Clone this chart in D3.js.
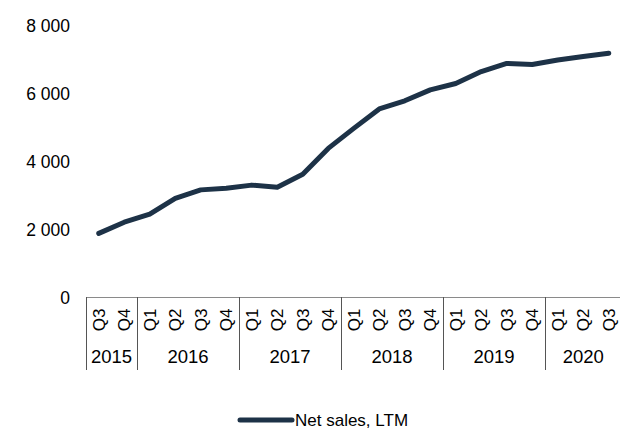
<!DOCTYPE html>
<html>
<head>
<meta charset="utf-8">
<script src="https://cdn.jsdelivr.net/npm/d3@7"></script>
<style>
  body { margin: 0; background: #fff; }
  text { font-family: "Liberation Sans", Arial, sans-serif; fill: #000; }
</style>
</head>
<body>
<div id="chart"></div>
<script>
// ----------------------------
// DATA
// ----------------------------
const years = ["2015", "2016", "2017", "2018", "2019", "2020"];
const quarters = [
  ["Q3", "Q4"],
  ["Q1", "Q2", "Q3", "Q4"],
  ["Q1", "Q2", "Q3", "Q4"],
  ["Q1", "Q2", "Q3", "Q4"],
  ["Q1", "Q2", "Q3", "Q4"],
  ["Q1", "Q2", "Q3"]
];
const netSales = [
  1900, 2230,
  2470, 2930, 3180, 3230,
  3320, 3260, 3640, 4400,
  4990, 5560, 5800, 6120,
  6310, 6660, 6900, 6870,
  7000, 7100, 7200
];
const yTicks = [0, 2000, 4000, 6000, 8000];
const seriesName = "Net sales, LTM";

// ----------------------------
// SETUP
// ----------------------------
const width = 620, height = 431;
const y0 = 298, yTop = 26;
const xLeft = 86, xRight = 621.5;
const color = "#1d3247";

const cats = [];
years.forEach((yr, i) => quarters[i].forEach(q => cats.push({ key: yr + " " + q, year: yr, q })));

const svg = d3.select("#chart").append("svg")
  .attr("width", width).attr("height", height);

const x = d3.scaleBand()
  .domain(cats.map(d => d.key))
  .range([xLeft, xRight])
  .padding(0);

const y = d3.scaleLinear()
  .domain([0, 8000])
  .range([y0, yTop]);

// ----------------------------
// Y AXIS LABELS
// ----------------------------
svg.append("g")
  .selectAll("text")
  .data(yTicks)
  .join("text")
  .attr("x", 70)
  .attr("y", d => y(d))
  .attr("dy", "0.35em")
  .attr("text-anchor", "end")
  .style("font-size", "17.5px")
  .text(d => d3.format(",")(d).replace(/,/g, " "));

// ----------------------------
// X AXIS (two-level categories)
// ----------------------------
svg.append("line")
  .attr("x1", xLeft).attr("x2", width)
  .attr("y1", y0 - 0.5).attr("y2", y0 - 0.5)
  .attr("stroke", "#8a8a8a").attr("stroke-width", 1.2);

// year boundaries
let idx = 0;
const bounds = [0];
quarters.forEach(qs => { idx += qs.length; bounds.push(idx); });

svg.append("g")
  .selectAll("line")
  .data(bounds.slice(0, -1))
  .join("line")
  .attr("x1", i => Math.round(xLeft + i * x.bandwidth()) + 0.5)
  .attr("x2", i => Math.round(xLeft + i * x.bandwidth()) + 0.5)
  .attr("y1", y0 - 1)
  .attr("y2", 370)
  .attr("stroke", "#555").attr("stroke-width", 1);

svg.append("g")
  .selectAll("text")
  .data(cats)
  .join("text")
  .attr("transform", d => `translate(${x(d.key) + x.bandwidth() / 2 + 6},320) rotate(-90)`)
  .attr("text-anchor", "middle")
  .style("font-size", "17px")
  .text(d => d.q);

svg.append("g")
  .selectAll("text")
  .data(years)
  .join("text")
  .attr("x", (d, i) => xLeft + (bounds[i] + bounds[i + 1]) / 2 * x.bandwidth())
  .attr("y", 363)
  .attr("text-anchor", "middle")
  .style("font-size", "18.5px")
  .text(d => d);

// ----------------------------
// LINE
// ----------------------------
const line = d3.line()
  .x((d, i) => x(cats[i].key) + x.bandwidth() / 2)
  .y(d => y(d));

svg.append("path")
  .datum(netSales)
  .attr("fill", "none")
  .attr("stroke", color)
  .attr("stroke-width", 5)
  .attr("stroke-linejoin", "round")
  .attr("stroke-linecap", "round")
  .attr("d", line);

// ----------------------------
// LEGEND
// ----------------------------
const legend = svg.append("g");
legend.append("line")
  .attr("x1", 240).attr("x2", 292)
  .attr("y1", 420).attr("y2", 420)
  .attr("stroke", color).attr("stroke-width", 5)
  .attr("stroke-linecap", "round");
legend.append("text")
  .attr("x", 295).attr("y", 420)
  .attr("dy", "0.35em")
  .style("font-size", "17px")
  .text(seriesName);
</script>
</body>
</html>
